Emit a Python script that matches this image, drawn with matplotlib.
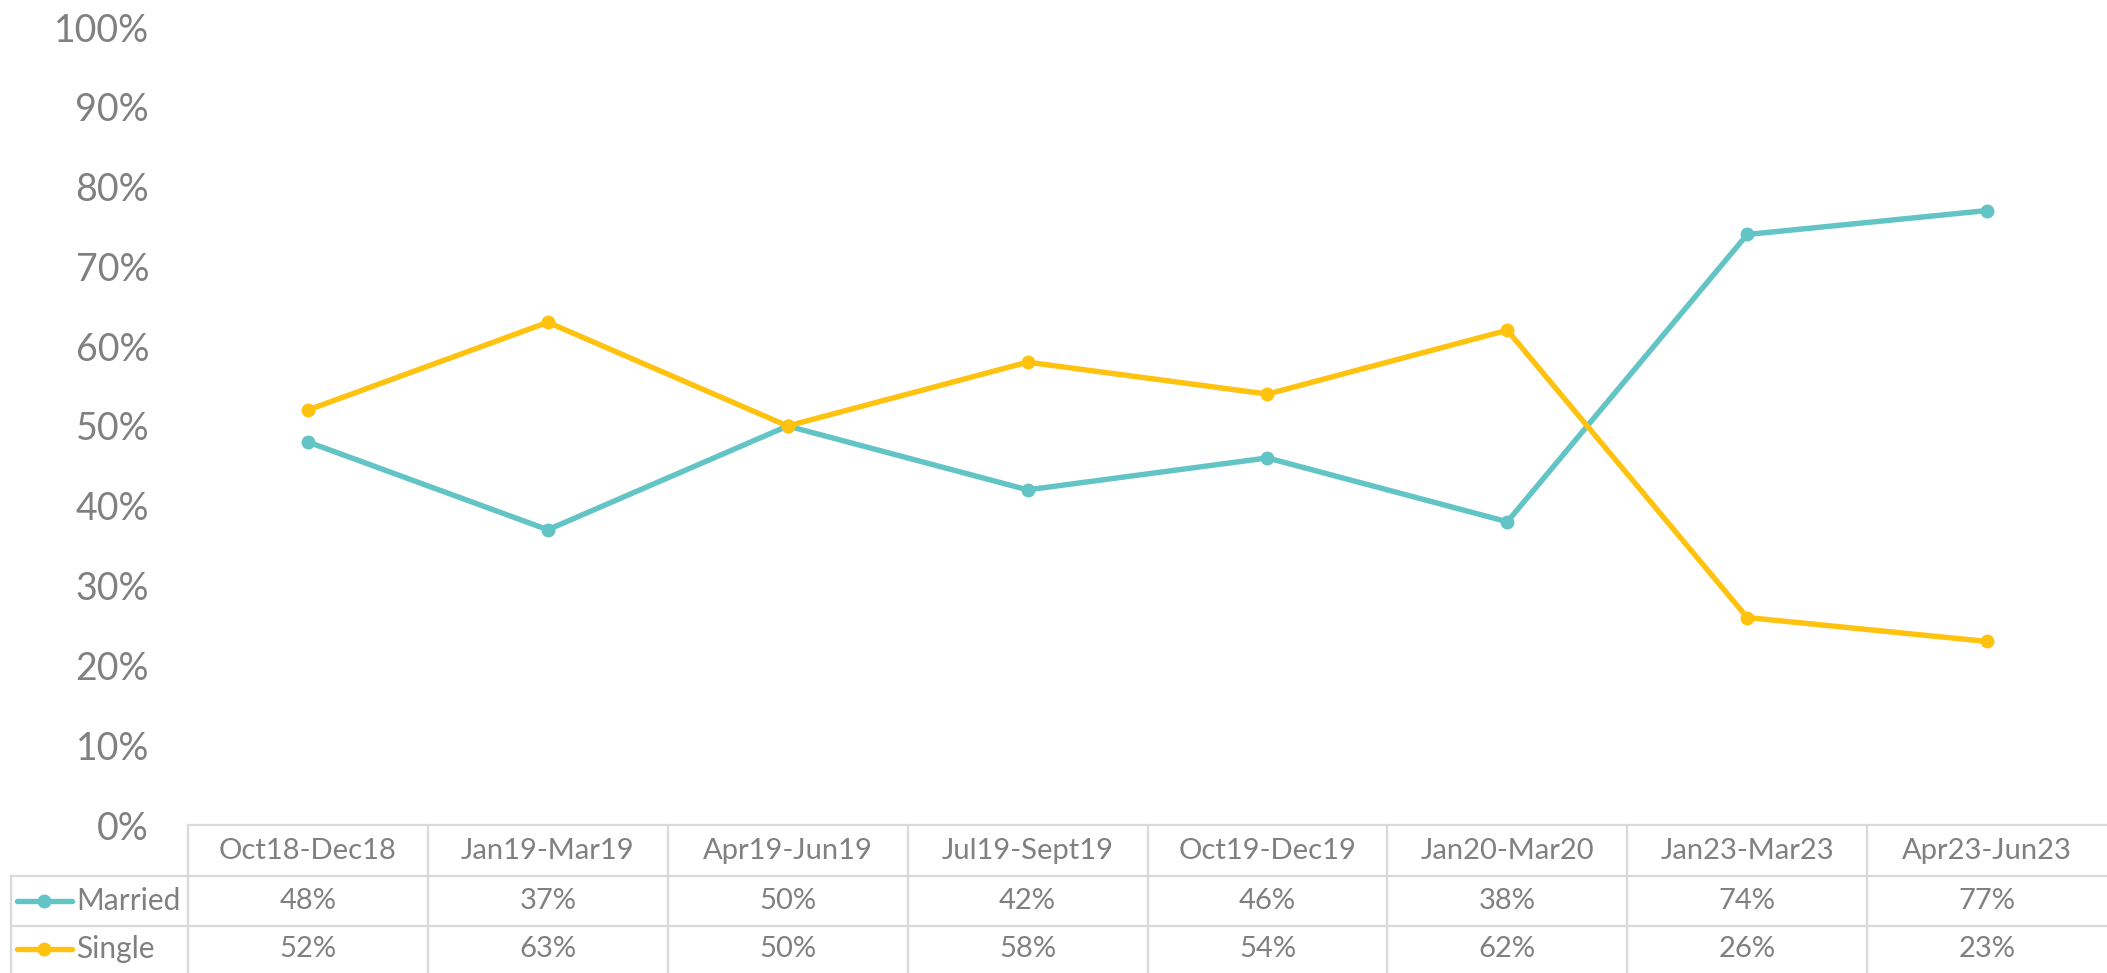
import matplotlib
matplotlib.use("Agg")
import matplotlib.pyplot as plt
import matplotlib.transforms as mtransforms
from matplotlib.lines import Line2D

# Data
periods = ["Oct18-Dec18", "Jan19-Mar19", "Apr19-Jun19", "Jul19-Sept19",
           "Oct19-Dec19", "Jan20-Mar20", "Jan23-Mar23", "Apr23-Jun23"]
married = [48, 37, 50, 42, 46, 38, 74, 77]
single = [52, 63, 50, 58, 54, 62, 26, 23]
series_names = ["Married", "Single"]

TEAL = "#62C4C5"
YELLOW = "#FFC20E"
TEXT = "#808080"
GRID = "#D9D9D9"

plt.rcParams["font.family"] = ["Lato", "DejaVu Sans"]

W, H = 2107, 973
fig = plt.figure(figsize=(W / 100, H / 100), dpi=100)

# axes placement (pixels from the reference)
left_px, right_px = 188, 2107
zero_px, hundred_px = 825, 27
ax = fig.add_axes([left_px / W, 1 - zero_px / H,
                   (right_px - left_px) / W, (zero_px - hundred_px) / H])

x = list(range(len(periods)))
ax.plot(x, married, color=TEAL, lw=3.9, marker="o", ms=9)
ax.plot(x, single, color=YELLOW, lw=3.9, marker="o", ms=9)

ax.set_xlim(-0.5, len(periods) - 0.5)
ax.set_ylim(0, 100)
ax.set_yticks(range(0, 101, 10))
ax.set_yticklabels([f"{v}%" for v in range(0, 101, 10)])
ax.tick_params(axis="y", length=0, pad=28, labelsize=27, labelcolor=TEXT)
ax.set_xticks([])
for s in ax.spines.values():
    s.set_visible(False)

# data table under the chart
tr = mtransforms.blended_transform_factory(ax.transData, fig.transFigure)
fy = lambda py: 1 - py / H
row_lines = [825, 876, 926]
header_y, married_y, single_y = 851, 901, 949
legend_left = -0.5 - (left_px - 11) / ((right_px - left_px) / len(periods))

# horizontal lines
fig.add_artist(Line2D([-0.5, len(periods) - 0.5], [fy(825), fy(825)],
                      transform=tr, color=GRID, lw=1.6))
for py in row_lines[1:]:
    fig.add_artist(Line2D([legend_left, len(periods) - 0.5], [fy(py), fy(py)],
                          transform=tr, color=GRID, lw=1.6))
# vertical lines
for i in range(len(periods)):
    fig.add_artist(Line2D([i - 0.5, i - 0.5], [fy(825), 0],
                          transform=tr, color=GRID, lw=1.6))
fig.add_artist(Line2D([legend_left, legend_left], [fy(876), 0],
                      transform=tr, color=GRID, lw=1.6))

for i, p in enumerate(periods):
    fig.text(i, fy(header_y), p, transform=tr, ha="center", va="center",
             fontsize=21, color=TEXT)
    fig.text(i, fy(married_y), f"{married[i]}%", transform=tr, ha="center",
             va="center", fontsize=21, color=TEXT)
    fig.text(i, fy(single_y), f"{single[i]}%", transform=tr, ha="center",
             va="center", fontsize=21, color=TEXT)

# legend keys in the row labels
for name, col, py in [(series_names[0], TEAL, married_y), (series_names[1], YELLOW, single_y)]:
    fig.add_artist(Line2D([17 / W, 72 / W], [fy(py), fy(py)], color=col, lw=3.9,
                          solid_capstyle="round"))
    fig.add_artist(Line2D([44 / W], [fy(py)], color=col, marker="o", ms=9))
    fig.text(76 / W, fy(py), name, ha="left", va="center", fontsize=21.5, color=TEXT)

fig.savefig("out.png", dpi=100)
